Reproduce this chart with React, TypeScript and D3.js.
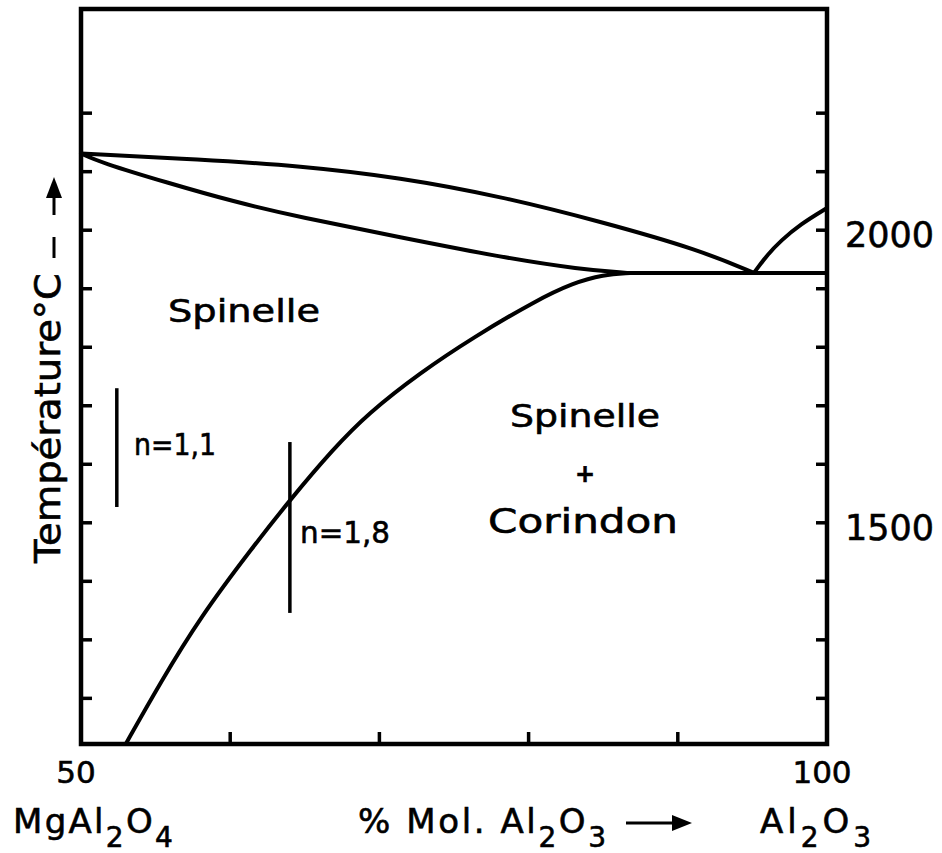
import React from 'react';
import * as d3 from 'd3';

const W = 942;
const H = 853;

// axes
const xDomain: [number, number] = [50, 100];
const yDomain: [number, number] = [1122, 2378];
const xTicks = [60, 70, 80, 90];
const yTicks = [1200, 1300, 1400, 1500, 1600, 1700, 1800, 1900, 2000, 2100, 2200];
const yTickLabels = [2000, 1500];
const xTickLabels = [50, 100];

// phase boundaries (% mol Al2O3, °C)
const liquidusSpinel: [number, number][] = [
  [50, 2131], [58, 2121], [64.7, 2110], [71.4, 2090], [78.1, 2058], [84.8, 2015], [91.5, 1966], [95.1, 1927],
];
const solidusSpinel: [number, number][] = [
  [50, 2131], [51.3, 2116], [55.8, 2081], [60.2, 2049], [64.7, 2022], [71.4, 1988], [78.1, 1954], [83.5, 1933], [86.6, 1927],
];
const solvusSpinel: [number, number][] = [
  [53.0, 1122], [55.3, 1226], [58.0, 1339], [61.5, 1458], [64.0, 1539], [66.9, 1626], [69.2, 1686],
  [72.7, 1756], [76.3, 1817], [80.5, 1880], [83.0, 1910], [85.0, 1924], [86.8, 1927],
];
const liquidusCorundum: [number, number][] = [
  [95.1, 1927], [96.0, 1958], [96.9, 1982], [98.2, 2010], [100, 2038],
];
const eutecticLine: [number, number][] = [[85.5, 1927], [100, 1927]];

// sample ranges: [composition, Tmin, Tmax]
const sampleN11: [number, number, number] = [52.4, 1527, 1730];
const sampleN18: [number, number, number] = [64.0, 1346, 1638];

const FONT = "'DejaVu Sans', sans-serif";

export default function App() {
  const x = d3.scaleLinear().domain(xDomain).range([81, 827]);
  const y = d3.scaleLinear().domain(yDomain).range([744, 9]);
  const line = d3
    .line<[number, number]>()
    .x((d) => x(d[0]))
    .y((d) => y(d[1]))
    .curve(d3.curveBasis);
  const straight = d3
    .line<[number, number]>()
    .x((d) => x(d[0]))
    .y((d) => y(d[1]));

  const curveStyle = { fill: 'none', stroke: '#000', strokeWidth: 4, strokeLinecap: 'round' as const };
  const tickLen = 11;
  const txt = { stroke: '#000', strokeWidth: 0.6 };

  return (
    <svg width={W} height={H} style={{ position: 'absolute', left: 0, top: 0, background: '#fff' }} fontFamily={FONT}>
      <rect x={0} y={0} width={W} height={H} fill="#fff" />
      {/* frame */}
      <rect
        x={x(xDomain[0])}
        y={y(yDomain[1])}
        width={x(xDomain[1]) - x(xDomain[0])}
        height={y(yDomain[0]) - y(yDomain[1])}
        fill="none"
        stroke="#000"
        strokeWidth={4.5}
      />
      {/* ticks */}
      {yTicks.map((t) => (
        <g key={'yt' + t}>
          <line x1={x(50)} x2={x(50) + tickLen} y1={y(t)} y2={y(t)} stroke="#000" strokeWidth={3.5} />
          <line x1={x(100)} x2={x(100) - tickLen} y1={y(t)} y2={y(t)} stroke="#000" strokeWidth={3.5} />
        </g>
      ))}
      {xTicks.map((t) => (
        <line key={'xt' + t} x1={x(t)} x2={x(t)} y1={y(yDomain[0])} y2={y(yDomain[0]) - 12} stroke="#000" strokeWidth={3.5} />
      ))}
      {/* tick labels */}
      {yTickLabels.map((t) => (
        <text key={'yl' + t} x={845} y={y(t) + 17} fontSize={36} textLength={89} lengthAdjust="spacingAndGlyphs" {...txt}>
          {t}
        </text>
      ))}
      {xTickLabels.map((t) => (
        <text key={'xl' + t} x={x(t) - 5} y={783} fontSize={31} textAnchor="middle" {...txt}>
          {t}
        </text>
      ))}

      {/* phase boundaries */}
      <path d={line(liquidusSpinel) || ''} style={curveStyle} />
      <path d={line(solidusSpinel) || ''} style={curveStyle} />
      <path d={line(solvusSpinel) || ''} style={curveStyle} />
      <path d={line(liquidusCorundum) || ''} style={curveStyle} />
      <path d={straight(eutecticLine) || ''} style={curveStyle} />

      {/* sample ranges */}
      {[sampleN11, sampleN18].map((s, i) => (
        <line key={'s' + i} x1={x(s[0])} x2={x(s[0])} y1={y(s[1])} y2={y(s[2])} stroke="#000" strokeWidth={3.5} />
      ))}

      {/* region labels */}
      <g {...txt}>
        <text x={168} y={322} fontSize={32} textLength={152} lengthAdjust="spacingAndGlyphs">Spinelle</text>
        <text x={510} y={427} fontSize={32} textLength={150} lengthAdjust="spacingAndGlyphs">Spinelle</text>
        <text x={585} y={482} fontSize={24} fontWeight="bold" textAnchor="middle">+</text>
        <text x={488} y={533} fontSize={33} textLength={190} lengthAdjust="spacingAndGlyphs">Corindon</text>
        <text x={134} y={455} fontSize={30} textLength={82} lengthAdjust="spacingAndGlyphs">n=1,1</text>
        <text x={300} y={543} fontSize={30} textLength={90} lengthAdjust="spacingAndGlyphs">n=1,8</text>

        {/* y axis title */}
        <text transform="translate(60,563) rotate(-90)" fontSize={36} textLength={290} lengthAdjust="spacingAndGlyphs">
          Température°C
        </text>

        {/* x axis titles */}
        <text x={13} y={833} fontSize={34} letterSpacing={2.3}>
          MgAl<tspan fontSize={28} dy={14}>2</tspan>
          <tspan dy={-14}>O</tspan>
          <tspan fontSize={28} dy={14}>4</tspan>
        </text>
        <text x={358} y={833} fontSize={34} letterSpacing={2.6}>
          % Mol. Al<tspan fontSize={28} dy={14}>2</tspan>
          <tspan dy={-14}>O</tspan>
          <tspan fontSize={28} dy={14}>3</tspan>
        </text>
        <text x={760} y={833} fontSize={34} letterSpacing={4}>
          Al<tspan fontSize={28} dy={14}>2</tspan>
          <tspan dy={-14}>O</tspan>
          <tspan fontSize={28} dy={14}>3</tspan>
        </text>
      </g>

      {/* arrows */}
      <line x1={54} x2={54} y1={237} y2={258} stroke="#000" strokeWidth={3} />
      <line x1={54} x2={54} y1={196} y2={215} stroke="#000" strokeWidth={3} />
      <path d="M54,177 L46,198 L62,198 Z" fill="#000" />
      <line x1={626} x2={675} y1={823} y2={823} stroke="#000" strokeWidth={3} />
      <path d="M692,823 L672,815 L672,831 Z" fill="#000" />
    </svg>
  );
}
